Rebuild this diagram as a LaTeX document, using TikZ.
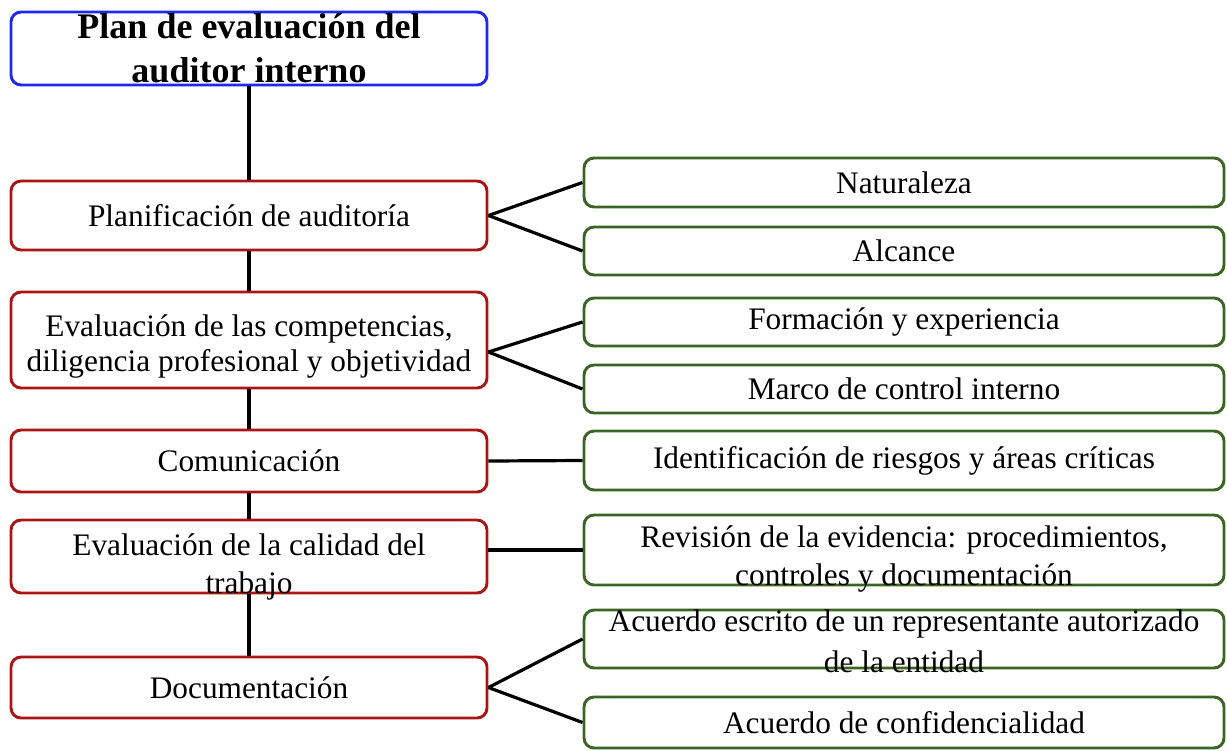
\documentclass[tikz,border=0pt]{standalone}
\usepackage{fontspec}
\setmainfont{Liberation Serif}

\tikzset{every picture/.style={line width=0.75pt}}
\tikzset{
  titlebox/.style={draw={rgb, 255:red, 30; green, 40; blue, 240}, line width=2.2pt, rounded corners=7.5pt, inner sep=0pt, minimum width=357pt, align=center, font=\fontsize{27}{33}\selectfont\bfseries},
  mainbox/.style={draw={rgb, 255:red, 170; green, 20; blue, 20}, line width=2.2pt, rounded corners=7.5pt, inner sep=0pt, minimum width=357pt, align=center, font=\fontsize{23.5}{26}\selectfont},
  subbox/.style={draw={rgb, 255:red, 60; green, 100; blue, 35}, line width=2.2pt, rounded corners=7.5pt, inner sep=0pt, minimum width=480pt, align=center, font=\fontsize{23.5}{26}\selectfont},
  boxtext/.style={inner sep=0pt, align=center, font=\fontsize{23.5}{28.5}\selectfont},
  link/.style={draw=black, line width=2.4pt}
}

\begin{document}
\begin{tikzpicture}[x=0.75pt,y=0.75pt,yscale=-1,xscale=1]
\useasboundingbox (0,0) rectangle (1227,750);

% Main column
\node [titlebox, minimum height=54.75pt] (plan) at (249,48.5) {Plan de evaluación del\\auditor interno};
\node [mainbox, minimum height=51.75pt] (planif) at (249,215.5) {Planificación de auditoría};
\node [mainbox, minimum height=72pt] (compet) at (249,340) {};
\node [mainbox, minimum height=46.5pt] (comun) at (249,461) {Comunicación};
\node [mainbox, minimum height=54.75pt] (calidad) at (249,556.5) {};
\node [mainbox, minimum height=45.75pt] (docum) at (249,687.5) {Documentación};

% Right column
\node [subbox, minimum height=36.75pt] (natur) at (904,182.5) {Naturaleza};
\node [subbox, minimum height=36pt] (alcan) at (904,251) {Alcance};
\node [subbox, minimum height=36pt] (formac) at (904,322) {Formación y experiencia};
\node [subbox, minimum height=36pt] (marco) at (904,389) {Marco de control interno};
\node [subbox, minimum height=44.25pt] (riesg) at (904,460.5) {Identificación de riesgos y áreas críticas};
\node [subbox, minimum height=52.5pt] (revis) at (904,550) {};
\node [subbox, minimum height=43.5pt] (escrito) at (904,639) {};
\node [subbox, minimum height=38.25pt] (confid) at (904,722.5) {Acuerdo de confidencialidad};

% Text Node
\node [boxtext, font=\fontsize{23.5}{26.5}\selectfont] (compet-t) at (249,346.5) {Evaluación de las competencias,\\diligencia profesional y objetividad};
% Text Node
\node [boxtext] (calidad-t) at (249,566.5) {Evaluación de la calidad del\\trabajo};
% Text Node
\node [boxtext] (revis-t) at (904,558.5) {Revisión de la evidencia: procedimientos,\\controles y documentación};
% Text Node
\node [boxtext, font=\fontsize{23.5}{31}\selectfont] (escrito-t) at (904,641.5) {Acuerdo escrito de un representante autorizado\\de la entidad};

%Straight Lines
\draw [link] (plan.south) -- (planif.north);
\draw [link] (planif.south) -- (compet.north);
\draw [link] (compet.south) -- (comun.north);
\draw [link] (comun.south) -- (calidad.north);
\draw [link] (calidad.south) -- (docum.north);

%Straight Lines
\draw [link] (planif.east) -- (natur.west);
\draw [link] (planif.east) -- (alcan.west);
\draw [link] (compet.east) ++(0,12) -- (formac.west);
\draw [link] (compet.east) ++(0,12) -- (marco.west);
\draw [link] (comun.east) -- (riesg.west);
\draw [link] (calidad.east |- revis.west) -- (revis.west);
\draw [link] (docum.east) -- (escrito.west);
\draw [link] (docum.east) -- (confid.west);

\end{tikzpicture}
\end{document}
